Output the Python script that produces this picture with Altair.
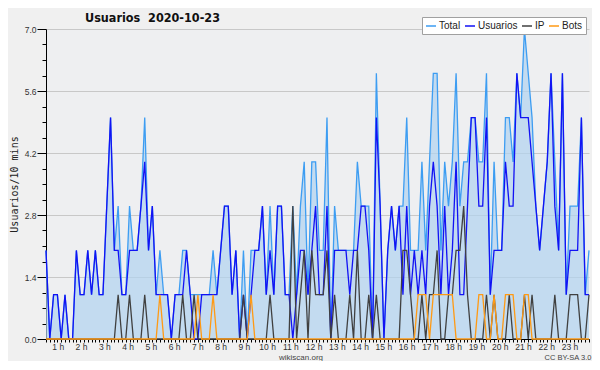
import altair as alt
import pandas as pd

title_text = "Usuarios\u00a0\u00a02020-10-23"
y_title = "Usuarios/10 mins"
footer_site = "wikiscan.org"
footer_license = "CC BY-SA 3.0"

series_names = ["Total", "Usuarios", "IP", "Bots"]
series_colors = ["#3d9df2", "#1212f4", "#404040", "#ff9a14"]

total = [2, 0, 1, 1, 0, 1, 0, 0, 2, 1,
         1, 2, 1, 2, 1, 1, 3, 5, 2, 3,
         1, 1, 3, 2, 2, 3, 5, 2, 3, 1,
         2, 1, 1, 0, 1, 1, 2, 2, 1, 1,
         1, 1, 1, 1, 2, 1, 2, 3, 3, 1,
         2, 0, 2, 0, 2, 2, 2, 3, 1, 3,
         1, 3, 3, 1, 1, 3, 1, 3, 4, 1,
         4, 4, 2, 2, 5, 0, 3, 2, 2, 2,
         2, 2, 4, 3, 3, 3, 0, 6, 3, 0,
         2, 3, 2, 3, 3, 5, 2, 2, 2, 4,
         2, 4, 6, 6, 2, 4, 3, 4, 6, 3,
         4, 4, 5, 5, 4, 4, 6, 1, 4, 2,
         2, 5, 5, 4, 6, 5, 7, 6, 5, 3,
         2, 3, 4, 6, 4, 2, 6, 1, 3, 3,
         3, 5, 1, 2]

usuarios = [2, 0, 1, 1, 0, 1, 0, 0, 2, 1,
            1, 2, 1, 2, 1, 1, 3, 5, 2, 2,
            1, 1, 2, 2, 2, 3, 4, 2, 3, 1,
            1, 1, 1, 0, 1, 1, 1, 2, 1, 0,
            0, 1, 1, 1, 1, 1, 2, 3, 3, 1,
            2, 0, 1, 0, 1, 2, 2, 3, 1, 2,
            1, 3, 3, 1, 1, 0, 1, 2, 2, 1,
            2, 3, 1, 1, 3, 0, 2, 2, 2, 2,
            1, 2, 2, 3, 3, 2, 0, 5, 3, 0,
            2, 3, 2, 3, 1, 3, 1, 2, 1, 2,
            1, 3, 4, 3, 1, 3, 1, 2, 4, 1,
            1, 3, 5, 5, 3, 3, 5, 1, 2, 2,
            2, 4, 3, 3, 6, 5, 5, 5, 4, 3,
            2, 3, 4, 6, 3, 2, 6, 1, 2, 2,
            2, 5, 1, 1]

ip = [0, 0, 0, 0, 0, 0, 0, 0, 0, 0,
      0, 0, 0, 0, 0, 0, 0, 0, 0, 1,
      0, 0, 1, 0, 0, 0, 1, 0, 0, 0,
      0, 0, 0, 0, 0, 0, 1, 0, 0, 1,
      0, 0, 0, 0, 0, 0, 0, 0, 0, 0,
      0, 0, 1, 0, 0, 0, 0, 0, 0, 1,
      0, 0, 0, 0, 0, 3, 0, 1, 2, 0,
      2, 1, 1, 1, 2, 0, 1, 0, 0, 0,
      1, 0, 2, 0, 0, 1, 0, 1, 0, 0,
      0, 0, 0, 0, 2, 2, 1, 0, 0, 1,
      0, 1, 1, 2, 0, 0, 1, 1, 2, 2,
      3, 1, 0, 0, 0, 0, 1, 0, 1, 0,
      0, 0, 1, 0, 0, 0, 1, 0, 1, 0,
      0, 0, 0, 0, 1, 0, 0, 0, 1, 1,
      1, 0, 0, 1]

bots = [0, 0, 0, 0, 0, 0, 0, 0, 0, 0,
        0, 0, 0, 0, 0, 0, 0, 0, 0, 0,
        0, 0, 0, 0, 0, 0, 0, 0, 0, 0,
        1, 0, 0, 0, 0, 0, 0, 0, 0, 0,
        1, 0, 0, 0, 1, 0, 0, 0, 0, 0,
        0, 0, 0, 0, 1, 0, 0, 0, 0, 0,
        0, 0, 0, 0, 0, 0, 0, 0, 0, 0,
        0, 0, 0, 0, 0, 0, 0, 0, 0, 0,
        0, 0, 0, 0, 0, 0, 0, 0, 0, 0,
        0, 0, 0, 0, 0, 0, 0, 0, 1, 1,
        1, 0, 1, 1, 1, 1, 1, 1, 0, 0,
        0, 0, 0, 0, 1, 1, 0, 0, 1, 0,
        0, 1, 1, 1, 0, 0, 1, 1, 0, 0,
        0, 0, 0, 0, 0, 0, 0, 0, 0, 0,
        0, 0, 0, 0]

hour_labels = ["1 h", "2 h", "3 h", "4 h", "5 h", "6 h", "7 h", "8 h", "9 h",
               "10 h", "11 h", "12 h", "13 h", "14 h", "15 h", "16 h", "17 h",
               "18 h", "19 h", "20 h", "21 h", "22 h", "23 h"]
y_major = [0.0, 1.4, 2.8, 4.2, 5.6, 7.0]

n = len(total)
steps = list(range(n))
# axis positions (in step units) of the hour labels, as placed in the original
label_pos = [round(3.1 + 6.125 * k, 3) for k in range(len(hour_labels))]
y_ticks = [round(0.35 * k, 2) for k in range(21)]

wide = pd.DataFrame({"i": steps, "Total": total})
long = pd.DataFrame({
    "i": steps * 4,
    "serie": [s for s in series_names for _ in steps],
    "v": total + usuarios + ip + bots,
})

pos_js = "[" + ",".join(repr(p) for p in label_pos) + "]"
lab_js = "[" + ",".join("'" + s + "'" for s in hour_labels) + "]"
is_lab = f"indexof({pos_js}, datum.value) >= 0"
x_label_expr = f"{is_lab} ? {lab_js}[indexof({pos_js}, datum.value)] : ''"

maj_js = "[" + ",".join(repr(v) for v in y_major) + "]"
is_major = f"indexof({maj_js}, datum.value) >= 0"
y_label_expr = f"{is_major} ? format(datum.value, '.1f') : ''"

x_axis = alt.Axis(
    values=steps + label_pos, labelExpr=x_label_expr, labelOverlap=False,
    labelFlush=False, labelFont="Liberation Sans", labelFontSize=8.5,
    labelColor="#333333", labelPadding=0, tickSize=3, tickColor="#000000",
    tickOpacity={"condition": {"test": is_lab, "value": 0}, "value": 1},
    domainColor="#000000", grid=False, title="",
)
y_axis = alt.Axis(
    values=y_ticks, labelExpr=y_label_expr, labelOverlap=False,
    labelFont="Liberation Sans", labelFontSize=8.5, labelColor="#333333",
    labelPadding=1, tickColor="#000000",
    tickSize={"condition": {"test": is_major, "value": 9}, "value": 4},
    domainColor="#000000", grid=True, gridColor="#c8c8c8",
    gridOpacity={"condition": {"test": is_major, "value": 1}, "value": 0},
    title=y_title, titleFont="DejaVu Sans Mono", titleFontSize=10,
    titleFontWeight="normal", titleColor="#222222", titleAngle=270,
    titleAlign="center", titleBaseline="bottom", titleX=-27, titleY=155,
)

x_scale = alt.Scale(domain=[0, n - 1], nice=False, zero=False)
y_scale = alt.Scale(domain=[0, 7], nice=False)

legend = alt.Legend(
    orient="none", legendX=376, legendY=-12, direction="horizontal", columns=4,
    title=None, symbolType="stroke", symbolSize=100, symbolStrokeWidth=1.5,
    labelFont="Liberation Sans", labelFontSize=10, labelColor="#222222",
    labelOffset=2, columnPadding=1, padding=3, fillColor="#ffffff",
    strokeColor="#a0a0a0",
)

area = alt.Chart(wide).mark_area(color="#b0d3f0", opacity=0.7).encode(
    x=alt.X("i:Q", scale=x_scale, axis=x_axis),
    y=alt.Y("Total:Q", scale=y_scale, axis=y_axis),
)

line_layers = []
for s in series_names:
    line_layers.append(
        alt.Chart(long).transform_filter(alt.datum.serie == s)
        .mark_line(strokeWidth=1.3)
        .encode(
            x=alt.X("i:Q", scale=x_scale, axis=x_axis),
            y=alt.Y("v:Q", scale=y_scale, axis=y_axis),
            color=alt.Color("serie:N", scale=alt.Scale(domain=series_names, range=series_colors), legend=legend),
        )
    )

title_mark = alt.Chart(pd.DataFrame({"t": [title_text]})).mark_text(
    align="left", baseline="alphabetic", font="DejaVu Sans Condensed, Liberation Sans Narrow, DejaVu Sans",
    fontWeight="bold", fontSize=12.5, color="#111111",
).encode(text="t:N", x=alt.value(39), y=alt.value(-7))

site_mark = alt.Chart(pd.DataFrame({"t": [footer_site]})).mark_text(
    align="center", baseline="alphabetic", font="Liberation Sans", fontSize=8, color="#444444",
).encode(text="t:N", x=alt.value(255), y=alt.value(330.5))

lic_mark = alt.Chart(pd.DataFrame({"t": [footer_license]})).mark_text(
    align="center", baseline="alphabetic", font="Liberation Sans", fontSize=7.5, color="#444444",
).encode(text="t:N", x=alt.value(522), y=alt.value(331))

chart = alt.layer(area, *line_layers, title_mark, site_mark, lic_mark).properties(
    width=543, height=310, background="#f0f0f0",
    padding={"left": 38, "top": 21, "right": 3, "bottom": 22},
    autosize=alt.AutoSizeParams(type="none"),
).configure_view(fill="#eeeff1", strokeWidth=0)

chart.save("out.html", embed_options={"renderer": "svg", "actions": False})
